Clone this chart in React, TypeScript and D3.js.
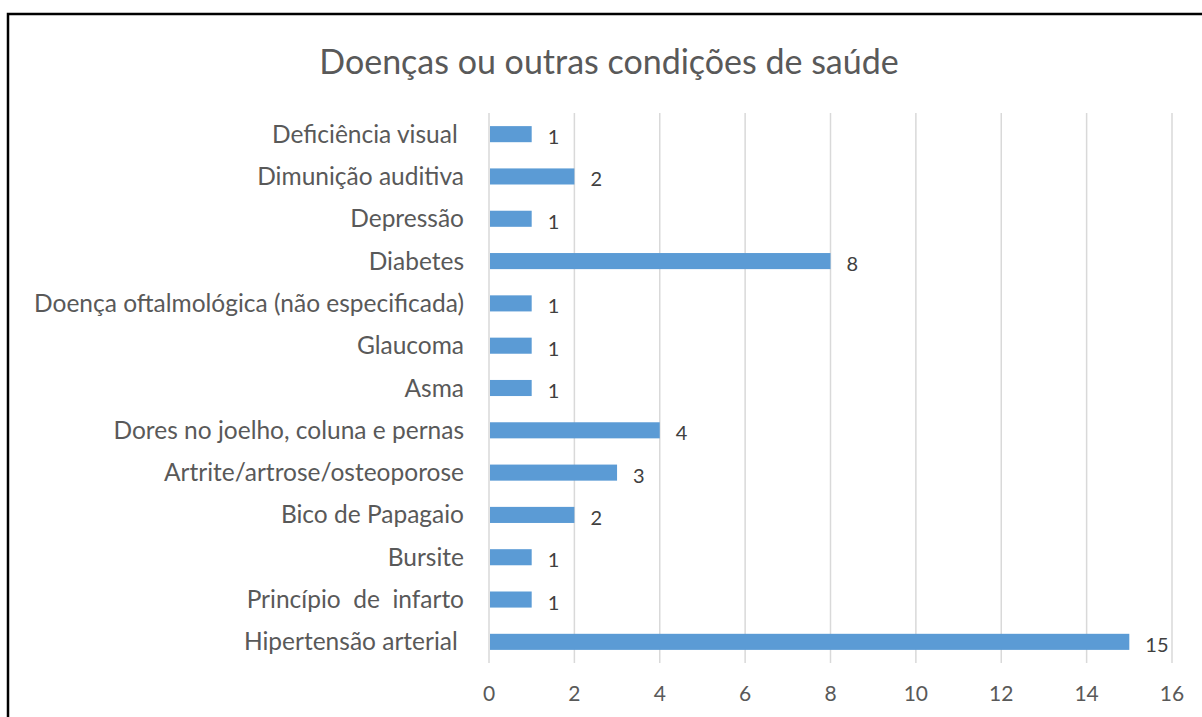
import { useEffect, useRef } from "react";
import * as d3 from "d3";

const categories = [
  "Deficiência visual ",
  "Dimunição auditiva",
  "Depressão",
  "Diabetes",
  "Doença oftalmológica (não especificada)",
  "Glaucoma",
  "Asma",
  "Dores no joelho, coluna e pernas",
  "Artrite/artrose/osteoporose",
  "Bico de Papagaio",
  "Bursite",
  "Princípio  de  infarto",
  "Hipertensão arterial ",
];
const values = [1, 2, 1, 8, 1, 1, 1, 4, 3, 2, 1, 1, 15];
const xTicks = [0, 2, 4, 6, 8, 10, 12, 14, 16];
const title = "Doenças ou outras condições de saúde";

const App = () => {
  const ref = useRef<SVGSVGElement | null>(null);

  useEffect(() => {
    const svg = d3.select(ref.current);
    svg.selectAll("*").remove();

    const W = 1202;
    const H = 717;
    const margin = { top: 113, left: 489, right: 30, bottom: 54 };
    const font = "Lato, 'Open Sans', sans-serif";
    const textColor = "#595959";

    // frame (cut off at right/bottom like the screenshot)
    svg
      .append("rect")
      .attr("x", 8)
      .attr("y", 14)
      .attr("width", W + 100)
      .attr("height", H + 100)
      .attr("fill", "white")
      .attr("stroke", "black")
      .attr("stroke-width", 2.5);

    const x = d3.scaleLinear().domain([0, 16]).range([margin.left, 1172]);
    const y = d3
      .scaleBand()
      .domain(categories)
      .range([margin.top, H - margin.bottom])
      .paddingInner(0.62)
      .paddingOuter(0.31);

    const data = categories.map((c, i) => ({ label: c, value: values[i] }));

    // gridlines
    svg
      .append("g")
      .selectAll("line")
      .data(xTicks)
      .enter()
      .append("line")
      .attr("x1", (d) => x(d))
      .attr("x2", (d) => x(d))
      .attr("y1", margin.top)
      .attr("y2", H - margin.bottom)
      .attr("stroke", "#D9D9D9")
      .attr("stroke-width", 1.5);

    // bars
    svg
      .append("g")
      .selectAll("rect")
      .data(data)
      .enter()
      .append("rect")
      .attr("x", x(0) + 1)
      .attr("y", (d) => y(d.label)!)
      .attr("width", (d) => x(d.value) - x(0) - 1)
      .attr("height", y.bandwidth())
      .attr("fill", "#5B9BD5");

    // value labels
    svg
      .append("g")
      .selectAll("text")
      .data(data)
      .enter()
      .append("text")
      .attr("x", (d) => x(d.value) + 16)
      .attr("y", (d) => y(d.label)! + y.bandwidth() / 2 + 10)
      .attr("font-family", font)
      .attr("font-size", 20)
      .attr("fill", "#404040")
      .text((d) => d.value);

    // category labels
    svg
      .append("g")
      .selectAll("text")
      .data(data)
      .enter()
      .append("text")
      .attr("x", x(0) - 25)
      .attr("y", (d) => y(d.label)! + y.bandwidth() / 2)
      .attr("dy", "0.35em")
      .attr("text-anchor", "end")
      .attr("font-family", font)
      .attr("font-size", 24.5)
      .attr("fill", textColor)
      .style("white-space", "pre")
      .text((d) => d.label);

    // x tick labels
    svg
      .append("g")
      .selectAll("text")
      .data(xTicks)
      .enter()
      .append("text")
      .attr("x", (d) => x(d))
      .attr("y", 694)
      .attr("dy", "0.35em")
      .attr("text-anchor", "middle")
      .attr("font-family", font)
      .attr("font-size", 21)
      .attr("fill", textColor)
      .text((d) => d);

    svg
      .append("text")
      .attr("x", 609)
      .attr("y", 62)
      .attr("dy", "0.35em")
      .attr("text-anchor", "middle")
      .attr("font-family", font)
      .attr("font-size", 34)
      .attr("fill", textColor)
      .text(title);
  }, []);

  return (
    <svg
      ref={ref}
      width={1202}
      height={717}
      style={{ position: "absolute", left: 0, top: 0, background: "white" }}
    />
  );
};

export default App;
